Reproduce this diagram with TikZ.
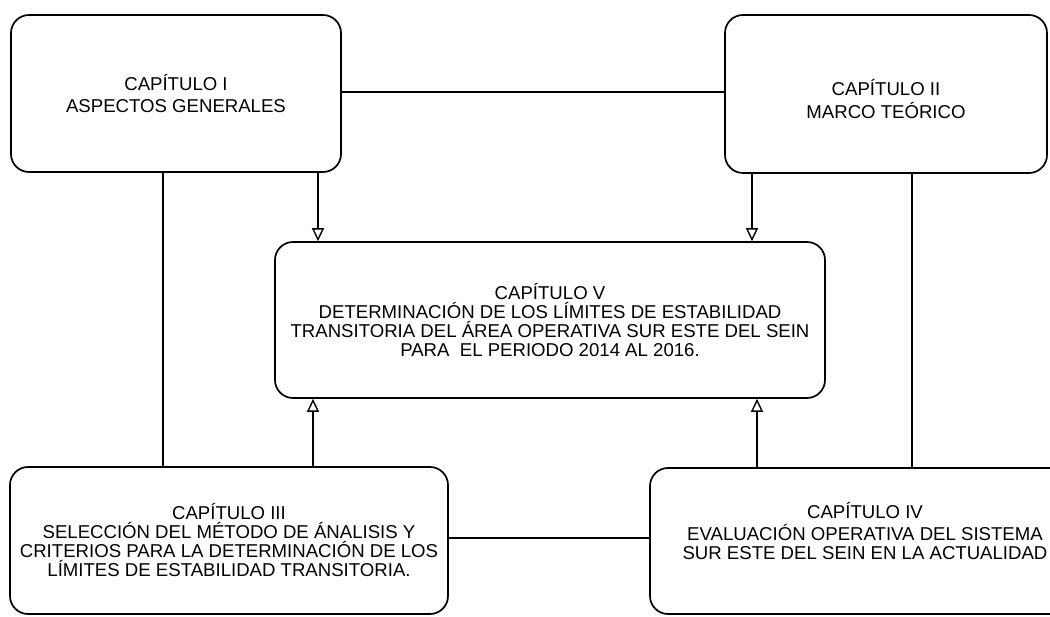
\documentclass[tikz,border=0pt]{standalone}
\usepackage{fontspec}
\setmainfont{Liberation Sans}
\usetikzlibrary{arrows.meta}
\begin{document}
\begin{tikzpicture}[x=1pt,y=-1pt,
  chbox/.style={draw=black, line width=1.7pt, rounded corners=18pt, align=center, inner sep=0pt,
    font=\fontsize{18.6}{19}\selectfont},
  topbox/.style={chbox, font=\fontsize{18.6}{21.5}\selectfont},
  link/.style={draw=black, line width=1.7pt},
  feed/.style={link, -{Triangle[open, fill=white, length=13pt, width=12pt, line width=1.4pt]}}
]
\useasboundingbox (0,0) rectangle (1050,617);
\clip (0,0) rectangle (1050,617);

\node[topbox, minimum width=330pt, minimum height=157pt] (c1) at (176,93.5)
  {CAPÍTULO I\\ASPECTOS GENERALES};
\node[topbox, minimum width=322pt, minimum height=158pt] (c2) at (886,94)
  {\raisebox{-8pt}[\height][\depth]{\begin{tabular}{@{}c@{}}CAPÍTULO II\\MARCO TEÓRICO\end{tabular}}};
\node[chbox, minimum width=550pt, minimum height=156pt] (c5) at (550,320)
  {CAPÍTULO V\\DETERMINACIÓN DE LOS LÍMITES DE ESTABILIDAD\\TRANSITORIA DEL ÁREA OPERATIVA SUR ESTE DEL SEIN\\PARA~ EL PERIODO 2014 AL 2016.};
\node[chbox, minimum width=438pt, minimum height=147pt] (c3) at (229,540.5)
  {CAPÍTULO III\\SELECCIÓN DEL MÉTODO DE ÁNALISIS Y\\CRITERIOS PARA LA DETERMINACIÓN DE LOS\\LÍMITES DE ESTABILIDAD TRANSITORIA.};
\node[chbox, minimum width=430pt, minimum height=146pt] (c4) at (865,541)
  {\raisebox{7pt}[\height][\depth]{\begin{tabular}{@{}c@{}}CAPÍTULO IV\\EVALUACIÓN OPERATIVA DEL SISTEMA\\SUR ESTE DEL SEIN EN LA ACTUALIDAD\end{tabular}}};

\coordinate (xa) at (163,0);
\coordinate (xb) at (318,0);
\coordinate (xc) at (313,0);
\coordinate (xd) at (752,0);
\coordinate (xe) at (757,0);
\coordinate (xf) at (912,0);
\coordinate (ya) at (0,92);
\coordinate (yb) at (0,538);

\draw[link] (c1.east |- ya) -- (c2.west |- ya);
\draw[link] (c3.east |- yb) -- (c4.west |- yb);
\draw[link] (xa |- c1.south) -- (xa |- c3.north);
\draw[link] (xf |- c2.south) -- (xf |- c4.north);
\draw[feed] (xb |- c1.south) -- (xb |- c5.north);
\draw[feed] (xd |- c2.south) -- (xd |- c5.north);
\draw[feed] (xc |- c3.north) -- (xc |- c5.south);
\draw[feed] (xe |- c4.north) -- (xe |- c5.south);
\end{tikzpicture}
\end{document}
